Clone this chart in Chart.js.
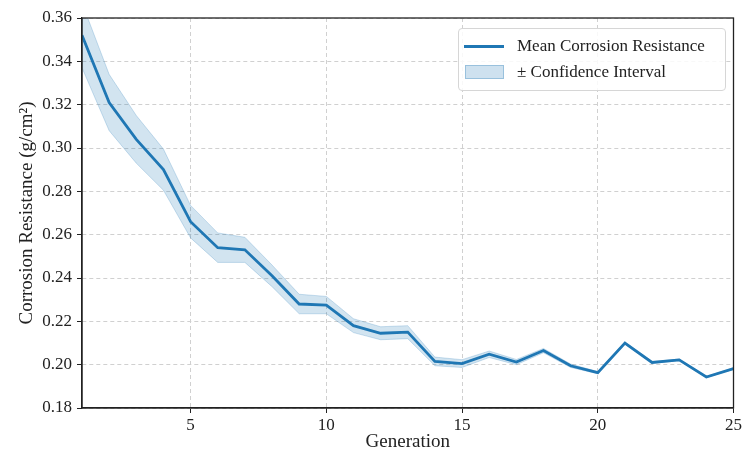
<!DOCTYPE html>
<html>
<head>
<meta charset="utf-8">
<script src="https://cdn.jsdelivr.net/npm/chart.js@4/dist/chart.umd.min.js"></script>
<style>
  html, body { margin: 0; padding: 0; background: #fff; }
  #wrap { position: relative; width: 744px; height: 457px; }
  #legend {
    position: absolute; left: 458px; top: 28px; width: 268px;
    border: 1px solid #d6d6d6; border-radius: 4px; background: rgba(255,255,255,0.85);
    font-family: "Liberation Serif", "DejaVu Serif", serif; font-size: 17px; color: #222;
    padding: 4px 0 5px 0; box-sizing: border-box;
  }
  .leg-row { display: flex; align-items: center; height: 26px; }
  .leg-line { width: 40px; height: 3px; background: #1f77b4; margin: 0 13px 0 5px; }
  .leg-box { width: 37px; height: 12px; background: rgba(31,119,180,0.22); border: 1px solid rgba(31,119,180,0.3); margin: 0 13px 0 6px; }
</style>
</head>
<body>
<div id="wrap">
  <canvas id="chart" width="744" height="457"></canvas>
  <div id="legend"></div>
</div>
<script>
// 数据
const generations = [1,2,3,4,5,6,7,8,9,10,11,12,13,14,15,16,17,18,19,20,21,22,23,24,25];
const meanResistance = [0.352,0.321,0.304,0.290,0.266,0.254,0.253,0.241,0.228,0.2275,0.218,0.2145,0.215,0.2015,0.2005,0.2048,0.2012,0.2065,0.1995,0.1963,0.2100,0.2010,0.2022,0.1943,0.1982];
const ciHalfWidth = [0.015,0.013,0.011,0.0095,0.0075,0.0068,0.0058,0.005,0.0045,0.004,0.0032,0.003,0.003,0.002,0.0018,0.0015,0.0012,0.001,0.0008,0.0005,0.0005,0.0004,0.0004,0.0003,0.0003];
const xTicks = [5,10,15,20,25];
const yTicks = [0.18,0.20,0.22,0.24,0.26,0.28,0.30,0.32,0.34,0.36];

const meanLabel = 'Mean Corrosion Resistance';
const ciLabel = '± Confidence Interval';

const upper = generations.map((g, i) => ({ x: g, y: meanResistance[i] + ciHalfWidth[i] }));
const lower = generations.map((g, i) => ({ x: g, y: meanResistance[i] - ciHalfWidth[i] }));
const mean = generations.map((g, i) => ({ x: g, y: meanResistance[i] }));

const serif = '"Liberation Serif", "DejaVu Serif", serif';

// 外框（上、右边框）
const framePlugin = {
  id: 'frame',
  afterDraw(chart) {
    const { ctx, chartArea: a } = chart;
    ctx.save();
    ctx.strokeStyle = '#222';
    ctx.lineWidth = 1.3;
    ctx.strokeRect(a.left, a.top, a.right - a.left, a.bottom - a.top);
    ctx.restore();
  }
};

const axisCommon = {
  grid: { color: '#d0d0d0', lineWidth: 1, tickColor: '#222', tickLength: 5, tickBorderDash: [] },
  border: { color: '#222', width: 1.3, dash: [4, 3] },
};

new Chart(document.getElementById('chart').getContext('2d'), {
  type: 'line',
  data: {
    datasets: [
      {
        label: ciLabel + ' upper',
        data: upper,
        borderColor: 'rgba(31,119,180,0.22)',
        borderWidth: 1,
        backgroundColor: 'rgba(31,119,180,0.2)',
        pointRadius: 0,
        fill: '+1',
        order: 2
      },
      {
        label: ciLabel + ' lower',
        data: lower,
        borderColor: 'rgba(31,119,180,0.22)',
        borderWidth: 1,
        pointRadius: 0,
        fill: false,
        order: 2
      },
      {
        label: meanLabel,
        data: mean,
        borderColor: '#1f77b4',
        borderWidth: 2.8,
        pointRadius: 0,
        fill: false,
        order: 1
      }
    ]
  },
  options: {
    responsive: false,
    animation: false,
    layout: { padding: { top: 18, right: 0, left: 0, bottom: 0 } },
    plugins: { legend: { display: false }, tooltip: { enabled: false } },
    scales: {
      x: {
        type: 'linear',
        min: 1,
        max: 25,
        ...axisCommon,
        afterBuildTicks: s => { s.ticks = xTicks.map(v => ({ value: v })); },
        afterFit: s => { s.height = 49; },
        ticks: { color: '#222', font: { family: serif, size: 17 }, padding: 2, maxRotation: 0 },
        title: { display: true, text: 'Generation', color: '#222', font: { family: serif, size: 19 }, padding: { top: 0, bottom: 4 } }
      },
      y: {
        min: 0.18,
        max: 0.36,
        ...axisCommon,
        afterBuildTicks: s => { s.ticks = yTicks.map(v => ({ value: v })); },
        afterFit: s => { s.width = 82; },
        ticks: { color: '#222', font: { family: serif, size: 17 }, padding: 5, callback: v => v.toFixed(2) },
        title: { display: true, text: 'Corrosion Resistance (g/cm²)', color: '#222', font: { family: serif, size: 19 }, padding: { top: 16, bottom: 0 } }
      }
    }
  },
  plugins: [framePlugin]
});

// 图例
const legend = document.getElementById('legend');
legend.innerHTML = `
  <div class="leg-row"><span class="leg-line"></span><span>${meanLabel}</span></div>
  <div class="leg-row"><span class="leg-box"></span><span>${ciLabel}</span></div>
`;
</script>
</body>
</html>
